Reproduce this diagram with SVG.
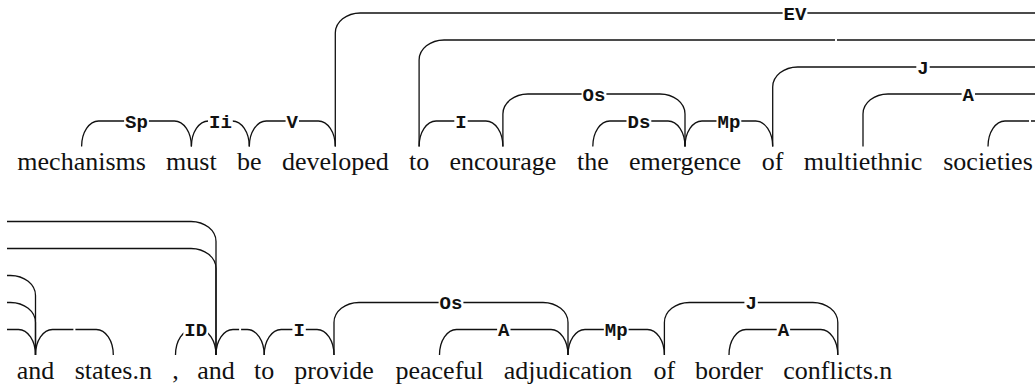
<svg xmlns="http://www.w3.org/2000/svg" width="1035" height="385" viewBox="0 0 1035 385">
<style>
.w{font-family:"Liberation Serif","Times New Roman",serif;font-size:26px;fill:#111;text-anchor:middle}
.ln{fill:none;stroke:#111;stroke-width:1.3}
.bg{fill:#fff}
.lb{font-family:"Liberation Mono","Courier New",monospace;font-weight:bold;font-size:19px;fill:#111;text-anchor:middle}
</style>
<rect width="1035" height="385" fill="#fff"/>
<g id="connectors">
<path class="ln" d="M81.6,146.5 A17,25.5 0 0 1 98.6,121 H174.4 A17,25.5 0 0 1 191.4,146.5"/>
<path class="ln" d="M191.4,146.5 A17,25.5 0 0 1 208.4,121 H232.3 A17,25.5 0 0 1 249.3,146.5"/>
<path class="ln" d="M249.3,146.5 A17,25.5 0 0 1 266.3,121 H318.3 A17,25.5 0 0 1 335.3,146.5"/>
<path class="ln" d="M335.3,146.5 V33 A25,20 0 0 1 360.3,13 H1040"/>
<path class="ln" d="M419.1,146.5 A17,25.5 0 0 1 436.1,121 H485.9 A17,25.5 0 0 1 502.9,146.5"/>
<path class="ln" d="M419.1,146.5 V60 A25,20 0 0 1 444.1,40 H1040"/>
<path class="ln" d="M502.9,146.5 V114 A25,20 0 0 1 527.9,94 H660 A25,20 0 0 1 685,114 V146.5"/>
<path class="ln" d="M592.8,146.5 A17,25.5 0 0 1 609.8,121 H668 A17,25.5 0 0 1 685,146.5"/>
<path class="ln" d="M685,146.5 A17,25.5 0 0 1 702,121 H755.7 A17,25.5 0 0 1 772.7,146.5"/>
<path class="ln" d="M772.7,146.5 V87 A25,20 0 0 1 797.7,67 H1040"/>
<path class="ln" d="M863,146.5 V114 A25,20 0 0 1 888,94 H1040"/>
<path class="ln" d="M988,146.5 A17,25.5 0 0 1 1005,121 H1040"/>
<path class="ln" d="M7,329.5 H18.5 A17,25.5 0 0 1 35.5,355"/>
<path class="ln" d="M7,302.5 H10.5 A25,20 0 0 1 35.5,322.5 V355"/>
<path class="ln" d="M7,275.5 H10.5 A25,20 0 0 1 35.5,295.5 V355"/>
<path class="ln" d="M35.5,355 A17,25.5 0 0 1 52.5,329.5 H96.3 A17,25.5 0 0 1 113.3,355"/>
<path class="ln" d="M7,221.5 H191 A25,20 0 0 1 216,241.5 V355"/>
<path class="ln" d="M7,248.5 H191 A25,20 0 0 1 216,268.5 V355"/>
<path class="ln" d="M175.5,355 A17,25.5 0 0 1 192.5,329.5 H199 A17,25.5 0 0 1 216,355"/>
<path class="ln" d="M216,355 A17,25.5 0 0 1 233,329.5 H247.2 A17,25.5 0 0 1 264.2,355"/>
<path class="ln" d="M264.2,355 A17,25.5 0 0 1 281.2,329.5 H317 A17,25.5 0 0 1 334,355"/>
<path class="ln" d="M334,355 V322.5 A25,20 0 0 1 359,302.5 H543 A25,20 0 0 1 568,322.5 V355"/>
<path class="ln" d="M439.5,355 A17,25.5 0 0 1 456.5,329.5 H551 A17,25.5 0 0 1 568,355"/>
<path class="ln" d="M568,355 A17,25.5 0 0 1 585,329.5 H647.4 A17,25.5 0 0 1 664.4,355"/>
<path class="ln" d="M664.4,355 V322.5 A25,20 0 0 1 689.4,302.5 H812.8 A25,20 0 0 1 837.8,322.5 V355"/>
<path class="ln" d="M729,355 A17,25.5 0 0 1 746,329.5 H820.8 A17,25.5 0 0 1 837.8,355"/>
<!-- labels -->
<rect class="bg" x="124.1" y="114" width="24.8" height="14"/><text class="lb" x="136.5" y="127.5">Sp</text>
<rect class="bg" x="208" y="114" width="24.8" height="14"/><text class="lb" x="220.4" y="127.5">Ii</text>
<rect class="bg" x="285.6" y="114" width="13.4" height="14"/><text class="lb" x="292.3" y="127.5">V</text>
<rect class="bg" x="782.6" y="6" width="24.8" height="14"/><text class="lb" x="795" y="19.5">EV</text>
<rect class="bg" x="835" y="38" width="2" height="4"/>
<rect class="bg" x="454.3" y="114" width="13.4" height="14"/><text class="lb" x="461" y="127.5">I</text>
<rect class="bg" x="581.6" y="87" width="24.8" height="14"/><text class="lb" x="594" y="100.5">Os</text>
<rect class="bg" x="626.5" y="114" width="24.8" height="14"/><text class="lb" x="638.9" y="127.5">Ds</text>
<rect class="bg" x="716.5" y="114" width="24.8" height="14"/><text class="lb" x="728.9" y="127.5">Mp</text>
<rect class="bg" x="916.3" y="60" width="13.4" height="14"/><text class="lb" x="923" y="73.5">J</text>
<rect class="bg" x="961.6" y="87" width="13.4" height="14"/><text class="lb" x="968.3" y="100.5">A</text>
<rect class="bg" x="1029" y="119" width="2" height="4"/>
<rect class="bg" x="73.4" y="327.5" width="2" height="4"/>
<rect class="bg" x="183.35" y="322.5" width="24.8" height="14"/><text class="lb" x="195.75" y="336">ID</text>
<rect class="bg" x="239.1" y="327.5" width="2" height="4"/>
<rect class="bg" x="292.4" y="322.5" width="13.4" height="14"/><text class="lb" x="299.1" y="336">I</text>
<rect class="bg" x="438.6" y="295.5" width="24.8" height="14"/><text class="lb" x="451" y="309">Os</text>
<rect class="bg" x="497.1" y="322.5" width="13.4" height="14"/><text class="lb" x="503.8" y="336">A</text>
<rect class="bg" x="603.8" y="322.5" width="24.8" height="14"/><text class="lb" x="616.2" y="336">Mp</text>
<rect class="bg" x="744.4" y="295.5" width="13.4" height="14"/><text class="lb" x="751.1" y="309">J</text>
<rect class="bg" x="776.7" y="322.5" width="13.4" height="14"/><text class="lb" x="783.4" y="336">A</text>
</g>
<g id="w1"><text class="w" x="81.6" y="170">mechanisms</text></g>
<g id="w2"><text class="w" x="191.4" y="170">must</text></g>
<g id="w3"><text class="w" x="249.3" y="170">be</text></g>
<g id="w4"><text class="w" x="335.3" y="170">developed</text></g>
<g id="w5"><text class="w" x="419.1" y="170">to</text></g>
<g id="w6"><text class="w" x="502.9" y="170">encourage</text></g>
<g id="w7"><text class="w" x="592.8" y="170">the</text></g>
<g id="w8"><text class="w" x="685" y="170">emergence</text></g>
<g id="w9"><text class="w" x="772.7" y="170">of</text></g>
<g id="w10"><text class="w" x="863" y="170">multiethnic</text></g>
<g id="w11"><text class="w" x="988" y="170">societies</text></g>
<g id="w12"><text class="w" x="35.5" y="378.5">and</text></g>
<g id="w13"><text class="w" x="113.3" y="378.5">states.n</text></g>
<g id="w14"><text class="w" x="175.5" y="378.5">,</text></g>
<g id="w15"><text class="w" x="216" y="378.5">and</text></g>
<g id="w16"><text class="w" x="264.2" y="378.5">to</text></g>
<g id="w17"><text class="w" x="334" y="378.5">provide</text></g>
<g id="w18"><text class="w" x="439.5" y="378.5">peaceful</text></g>
<g id="w19"><text class="w" x="568" y="378.5">adjudication</text></g>
<g id="w20"><text class="w" x="664.4" y="378.5">of</text></g>
<g id="w21"><text class="w" x="729" y="378.5">border</text></g>
<g id="w22"><text class="w" x="837.8" y="378.5">conflicts.n</text></g>
</svg>
